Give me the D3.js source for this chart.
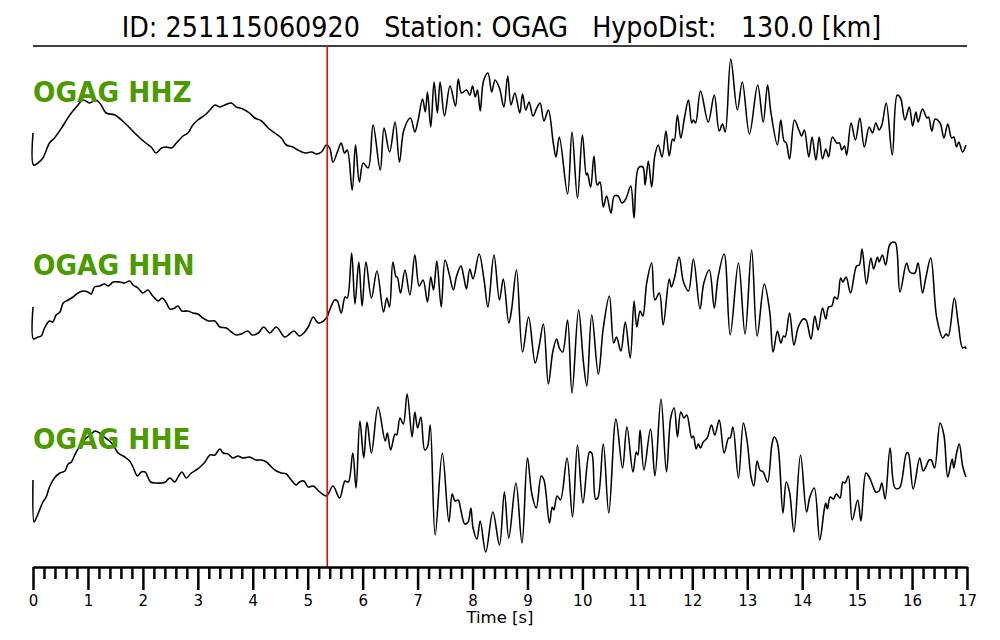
<!DOCTYPE html>
<html><head><meta charset="utf-8">
<script src="https://cdn.jsdelivr.net/npm/d3@7"></script>
<style>
html,body{margin:0;padding:0;background:#fff;}
svg text{font-family:"DejaVu Sans",sans-serif;}
</style></head>
<body>
<svg id="chart" width="1000" height="640"></svg>
<script>
// ---------------- DATA ----------------
const titleText = "ID: 251115060920   Station: OGAG   HypoDist:   130.0 [km]";
const channels = ["OGAG HHZ", "OGAG HHN", "OGAG HHE"];
const pickTime = 5.355;          // seconds (red line)
const timeDomain = [0, 17];
const majorTicks = [0,1,2,3,4,5,6,7,8,9,10,11,12,13,14,15,16,17];
const xLabel = "Time [s]";

// [time (s), relative amplitude]
const hhz = [[0,6],[0.01,-26],[0.09,-24],[0.18,-19],[0.30,-4],[0.39,1],[0.52,11],[0.67,24],[0.79,32],[0.91,39],[1.03,36],[1.15,39],[1.24,34],[1.33,26],[1.49,24],[1.67,16],[1.85,6],[2.03,-3],[2.15,-8],[2.24,-14],[2.34,-9],[2.43,-8],[2.52,-9],[2.61,-4],[2.73,3],[2.82,6],[2.91,14],[3.00,19],[3.13,24],[3.22,29],[3.31,34],[3.40,32],[3.49,34],[3.61,36],[3.70,32],[3.82,30],[3.94,26],[4.04,21],[4.16,18],[4.28,11],[4.40,6],[4.52,1],[4.61,-6],[4.73,-8],[4.82,-11],[4.95,-14],[5.07,-13],[5.16,-15],[5.25,-13],[5.34,-6],[5.40,-9],[5.46,-23],[5.54,-13],[5.61,-4],[5.67,-14],[5.72,-11],[5.81,-51],[5.87,-6],[5.94,-43],[6.01,-24],[6.10,-29],[6.19,14],[6.32,-31],[6.39,11],[6.49,-13],[6.59,17],[6.67,-23],[6.75,9],[6.87,21],[6.95,7],[7.01,19],[7.09,40],[7.14,27],[7.18,47],[7.24,12],[7.30,57],[7.36,26],[7.41,57],[7.49,23],[7.59,53],[7.69,33],[7.74,60],[7.80,46],[7.89,49],[7.95,44],[8.00,53],[8.05,42],[8.09,49],[8.14,28],[8.20,58],[8.28,66],[8.35,47],[8.41,59],[8.49,51],[8.57,32],[8.64,63],[8.70,34],[8.77,46],[8.86,26],[8.91,45],[8.97,29],[9.03,37],[9.10,23],[9.17,31],[9.23,36],[9.30,18],[9.38,29],[9.47,-4],[9.52,-18],[9.58,2],[9.73,-55],[9.81,7],[9.91,-59],[10.00,4],[10.07,-36],[10.09,-34],[10.15,-48],[10.21,-17],[10.27,-46],[10.32,-43],[10.38,-68],[10.44,-57],[10.52,-74],[10.58,-57],[10.65,-57],[10.72,-64],[10.79,-60],[10.88,-47],[10.94,-79],[11.02,-29],[11.10,-28],[11.14,-46],[11.20,-22],[11.26,-48],[11.32,-16],[11.38,-6],[11.45,-18],[11.52,8],[11.58,-17],[11.64,0],[11.67,-2],[11.73,24],[11.79,1],[11.86,22],[11.93,39],[11.99,16],[12.02,19],[12.06,16],[12.15,48],[12.29,17],[12.40,44],[12.49,8],[12.55,15],[12.60,7],[12.70,80],[12.82,29],[12.91,57],[13.04,5],[13.19,54],[13.29,17],[13.37,54],[13.43,27],[13.55,-6],[13.61,19],[13.67,-2],[13.71,-4],[13.77,-20],[13.86,19],[13.94,9],[13.99,3],[14.04,9],[14.12,-18],[14.18,2],[14.25,-21],[14.31,2],[14.37,-20],[14.43,-10],[14.48,-18],[14.55,2],[14.63,-4],[14.68,-4],[14.72,-11],[14.77,-7],[14.81,-16],[14.89,16],[14.97,-1],[15.05,21],[15.13,-8],[15.22,12],[15.28,6],[15.34,16],[15.40,9],[15.45,14],[15.53,36],[15.64,-16],[15.73,44],[15.79,41],[15.87,19],[15.95,32],[16.01,13],[16.07,27],[16.11,17],[16.19,30],[16.27,21],[16.30,22],[16.36,8],[16.42,20],[16.51,16],[16.58,1],[16.65,15],[16.72,1],[16.76,2],[16.81,-8],[16.85,-3],[16.92,-13],[16.98,-6]];

const hhn = [[0,8],[0.01,-24],[0.09,-22],[0.15,-21],[0.21,-13],[0.30,-6],[0.36,-7],[0.42,0],[0.49,3],[0.55,12],[0.64,15],[0.73,18],[0.82,22],[0.91,24],[1.00,23],[1.06,21],[1.12,28],[1.21,29],[1.30,31],[1.37,29],[1.46,33],[1.58,33],[1.67,32],[1.76,34],[1.82,30],[1.91,27],[2.00,22],[2.09,25],[2.18,19],[2.28,14],[2.35,17],[2.43,12],[2.49,6],[2.58,7],[2.64,9],[2.71,4],[2.82,4],[2.91,2],[3.00,1],[3.09,-3],[3.19,-6],[3.31,-6],[3.40,-12],[3.52,-13],[3.61,-17],[3.70,-20],[3.79,-19],[3.91,-16],[3.99,-20],[4.10,-18],[4.20,-12],[4.31,-18],[4.43,-12],[4.58,-22],[4.67,-19],[4.75,-16],[4.85,-21],[4.93,-18],[5.01,-12],[5.10,-2],[5.19,-8],[5.34,-3],[5.40,5],[5.49,15],[5.54,14],[5.61,2],[5.68,18],[5.72,17],[5.80,62],[5.86,11],[5.93,53],[5.99,9],[6.06,53],[6.16,17],[6.26,44],[6.38,3],[6.44,17],[6.49,8],[6.55,53],[6.61,38],[6.63,38],[6.69,22],[6.77,45],[6.86,20],[6.95,60],[7.03,29],[7.10,35],[7.18,13],[7.24,38],[7.29,25],[7.35,54],[7.43,8],[7.50,55],[7.58,40],[7.65,25],[7.71,39],[7.79,49],[7.84,38],[7.89,26],[7.95,46],[8.01,36],[8.12,61],[8.21,35],[8.28,8],[8.39,60],[8.49,15],[8.56,36],[8.66,-8],[8.71,5],[8.80,45],[8.91,-37],[9.02,-2],[9.14,-48],[9.21,-32],[9.29,-9],[9.38,-69],[9.46,-37],[9.53,-24],[9.58,-33],[9.64,-37],[9.73,-5],[9.81,-78],[9.93,5],[10.02,-48],[10.08,-71],[10.17,0],[10.29,-59],[10.38,-13],[10.49,19],[10.57,-28],[10.62,-22],[10.70,-36],[10.78,-7],[10.87,-43],[10.94,14],[10.99,-12],[11.05,4],[11.10,-1],[11.17,32],[11.26,52],[11.32,15],[11.40,22],[11.47,-10],[11.58,36],[11.62,28],[11.68,38],[11.76,58],[11.84,33],[11.93,24],[12.02,56],[12.14,6],[12.21,32],[12.31,45],[12.40,7],[12.47,38],[12.58,61],[12.69,-20],[12.84,52],[12.96,-19],[13.08,65],[13.18,-21],[13.31,31],[13.41,3],[13.47,-37],[13.55,-16],[13.61,-28],[13.66,-21],[13.69,-22],[13.77,2],[13.85,-30],[13.93,-12],[14.02,-4],[14.07,-5],[14.16,-24],[14.23,-1],[14.29,-15],[14.37,7],[14.43,-4],[14.48,8],[14.54,9],[14.59,18],[14.64,16],[14.70,37],[14.74,33],[14.80,38],[14.88,22],[14.99,49],[15.04,50],[15.09,66],[15.17,31],[15.25,57],[15.30,46],[15.37,58],[15.40,53],[15.46,60],[15.52,50],[15.59,70],[15.65,73],[15.70,72],[15.78,23],[15.90,52],[15.96,43],[16.05,42],[16.11,52],[16.19,22],[16.25,37],[16.34,57],[16.45,-3],[16.56,-23],[16.62,-19],[16.66,-21],[16.77,17],[16.84,-8],[16.92,-33],[16.97,-32],[16.98,-34]];

const hhe = [[0,-7],[0.02,-49],[0.06,-45],[0.12,-37],[0.18,-29],[0.24,-24],[0.30,-14],[0.39,-5],[0.49,0],[0.58,2],[0.64,9],[0.70,11],[0.76,18],[0.83,25],[0.91,31],[0.97,35],[1.06,39],[1.13,42],[1.21,40],[1.27,37],[1.37,33],[1.46,28],[1.55,20],[1.67,16],[1.76,12],[1.82,6],[1.90,-3],[1.97,1],[2.04,1],[2.14,-9],[2.24,-10],[2.34,-10],[2.41,-9],[2.49,-5],[2.58,-9],[2.64,-4],[2.71,1],[2.79,-5],[2.88,0],[2.97,3],[3.06,7],[3.13,11],[3.22,18],[3.31,18],[3.40,24],[3.46,20],[3.55,19],[3.64,15],[3.73,17],[3.82,15],[3.94,16],[4.06,13],[4.16,13],[4.25,11],[4.34,6],[4.43,2],[4.52,0],[4.61,-1],[4.70,-7],[4.79,-12],[4.85,-9],[4.93,-8],[5.01,-14],[5.10,-13],[5.22,-19],[5.34,-23],[5.46,-13],[5.58,-25],[5.68,-8],[5.74,-9],[5.82,20],[5.88,-15],[5.95,52],[6.02,15],[6.08,51],[6.16,20],[6.28,66],[6.41,32],[6.45,40],[6.51,23],[6.59,39],[6.62,38],[6.68,55],[6.74,49],[6.81,79],[6.90,36],[6.95,61],[7.00,45],[7.06,56],[7.13,23],[7.18,26],[7.23,48],[7.32,-62],[7.45,20],[7.57,-49],[7.63,-21],[7.68,-28],[7.74,-27],[7.78,-35],[7.86,-51],[7.92,-49],[7.97,-35],[8.01,-55],[8.08,-66],[8.14,-48],[8.24,-79],[8.37,-39],[8.49,-72],[8.58,-19],[8.66,-65],[8.79,-10],[8.90,-70],[9.00,15],[9.08,-21],[9.16,-35],[9.25,-3],[9.30,-7],[9.40,-50],[9.45,-34],[9.48,-37],[9.54,-23],[9.60,-27],[9.72,15],[9.82,-44],[9.91,28],[10.01,-30],[10.13,21],[10.17,20],[10.24,-26],[10.28,-25],[10.38,29],[10.48,-40],[10.61,54],[10.73,5],[10.81,46],[10.92,1],[10.98,21],[11.01,18],[11.05,43],[11.12,3],[11.24,44],[11.32,-3],[11.43,74],[11.53,1],[11.61,56],[11.67,65],[11.73,36],[11.79,61],[11.85,55],[11.90,58],[11.99,35],[12.02,37],[12.07,24],[12.11,29],[12.15,25],[12.20,31],[12.27,35],[12.35,48],[12.41,38],[12.49,53],[12.58,20],[12.66,35],[12.69,35],[12.74,46],[12.84,-5],[12.93,50],[13.00,31],[13.07,-4],[13.12,-13],[13.18,12],[13.23,3],[13.29,1],[13.37,-9],[13.45,29],[13.49,36],[13.55,30],[13.65,-40],[13.71,-9],[13.77,-19],[13.85,-59],[13.97,18],[14.08,-39],[14.14,-24],[14.22,-15],[14.32,-67],[14.40,-37],[14.43,-30],[14.46,-36],[14.51,-24],[14.57,-26],[14.62,-21],[14.69,-25],[14.74,-9],[14.78,-10],[14.84,-3],[14.91,-47],[15.01,-27],[15.07,-48],[15.16,0],[15.22,-4],[15.28,-12],[15.34,-19],[15.40,-18],[15.45,-10],[15.51,-26],[15.60,25],[15.69,-15],[15.77,-15],[15.90,20],[15.93,20],[16.02,-16],[16.14,15],[16.20,2],[16.25,6],[16.31,13],[16.35,13],[16.41,5],[16.51,50],[16.58,38],[16.65,-4],[16.73,14],[16.76,5],[16.81,20],[16.86,29],[16.92,7],[16.98,-4]];

const traces = [hhz, hhn, hhe];

// ---------------- LAYOUT ----------------
const svg = d3.select("#chart");
const left = 33, right = 967;
const axisY = 567, titleRuleY = 46;
const centers = [139, 315, 473];
const labelBaselines = [101.5, 275, 448.5];
const green = "#4a9a00";

const x = d3.scaleLinear().domain(timeDomain).range([left, right]);

// title (slightly condensed like the reference)
svg.append("text")
  .attr("transform", "translate(501.5,37) scale(0.91,1)")
  .attr("text-anchor", "middle")
  .style("white-space", "pre")
  .attr("font-size", 28)
  .attr("fill", "#000")
  .text(titleText);

svg.append("line")
  .attr("x1", left).attr("x2", right)
  .attr("y1", titleRuleY).attr("y2", titleRuleY)
  .attr("stroke", "#000").attr("stroke-width", 1.5);

// traces
traces.forEach((tr, i) => {
  const y = d3.scaleLinear().domain([-100, 100]).range([centers[i] + 100, centers[i] - 100]);
  const line = d3.line().x(d => x(d[0])).y(d => y(d[1])).curve(d3.curveCatmullRom.alpha(0.5));
  svg.append("path")
    .datum(tr)
    .attr("d", line)
    .attr("fill", "none")
    .attr("stroke", "#000")
    .attr("stroke-width", 1.55)
    .attr("stroke-linejoin", "round");
});

// channel labels
svg.selectAll("text.chan")
  .data(channels)
  .join("text")
  .attr("class", "chan")
  .attr("transform", (d, i) => `translate(${left},${labelBaselines[i]}) scale(0.91,1)`)
  .attr("font-size", 29)
  .attr("font-weight", "bold")
  .attr("fill", green)
  .text(d => d);

// pick line
svg.append("line")
  .attr("x1", x(pickTime)).attr("x2", x(pickTime))
  .attr("y1", titleRuleY).attr("y2", axisY)
  .attr("stroke", "#ff0000").attr("stroke-width", 1.6);

// axis
const minorTicks = d3.range(0, 17.001, 0.2).map(v => +v.toFixed(1)).filter(v => Math.abs(v - Math.round(v)) > 1e-6);
const gMinor = svg.append("g").attr("transform", `translate(0,${axisY})`)
  .call(d3.axisBottom(x).tickValues(minorTicks).tickSize(12).tickSizeOuter(0).tickFormat(""));
const gMajor = svg.append("g").attr("transform", `translate(0,${axisY})`)
  .call(d3.axisBottom(x).tickValues(majorTicks).tickSize(23).tickSizeOuter(0).tickPadding(5).tickFormat(d3.format("d")));
[gMinor, gMajor].forEach(g => {
  g.selectAll(".tick line").attr("stroke", "#000").attr("stroke-width", 2.5);
  g.select(".domain").attr("stroke", "#000").attr("stroke-width", 2);
});
gMajor.selectAll(".tick text")
  .attr("font-family", "DejaVu Sans, sans-serif")
  .attr("font-size", 15).attr("fill", "#000");

svg.append("text")
  .attr("x", 500).attr("y", 623)
  .attr("text-anchor", "middle")
  .attr("font-size", 16.5)
  .attr("fill", "#000")
  .text(xLabel);
</script>
</body></html>
